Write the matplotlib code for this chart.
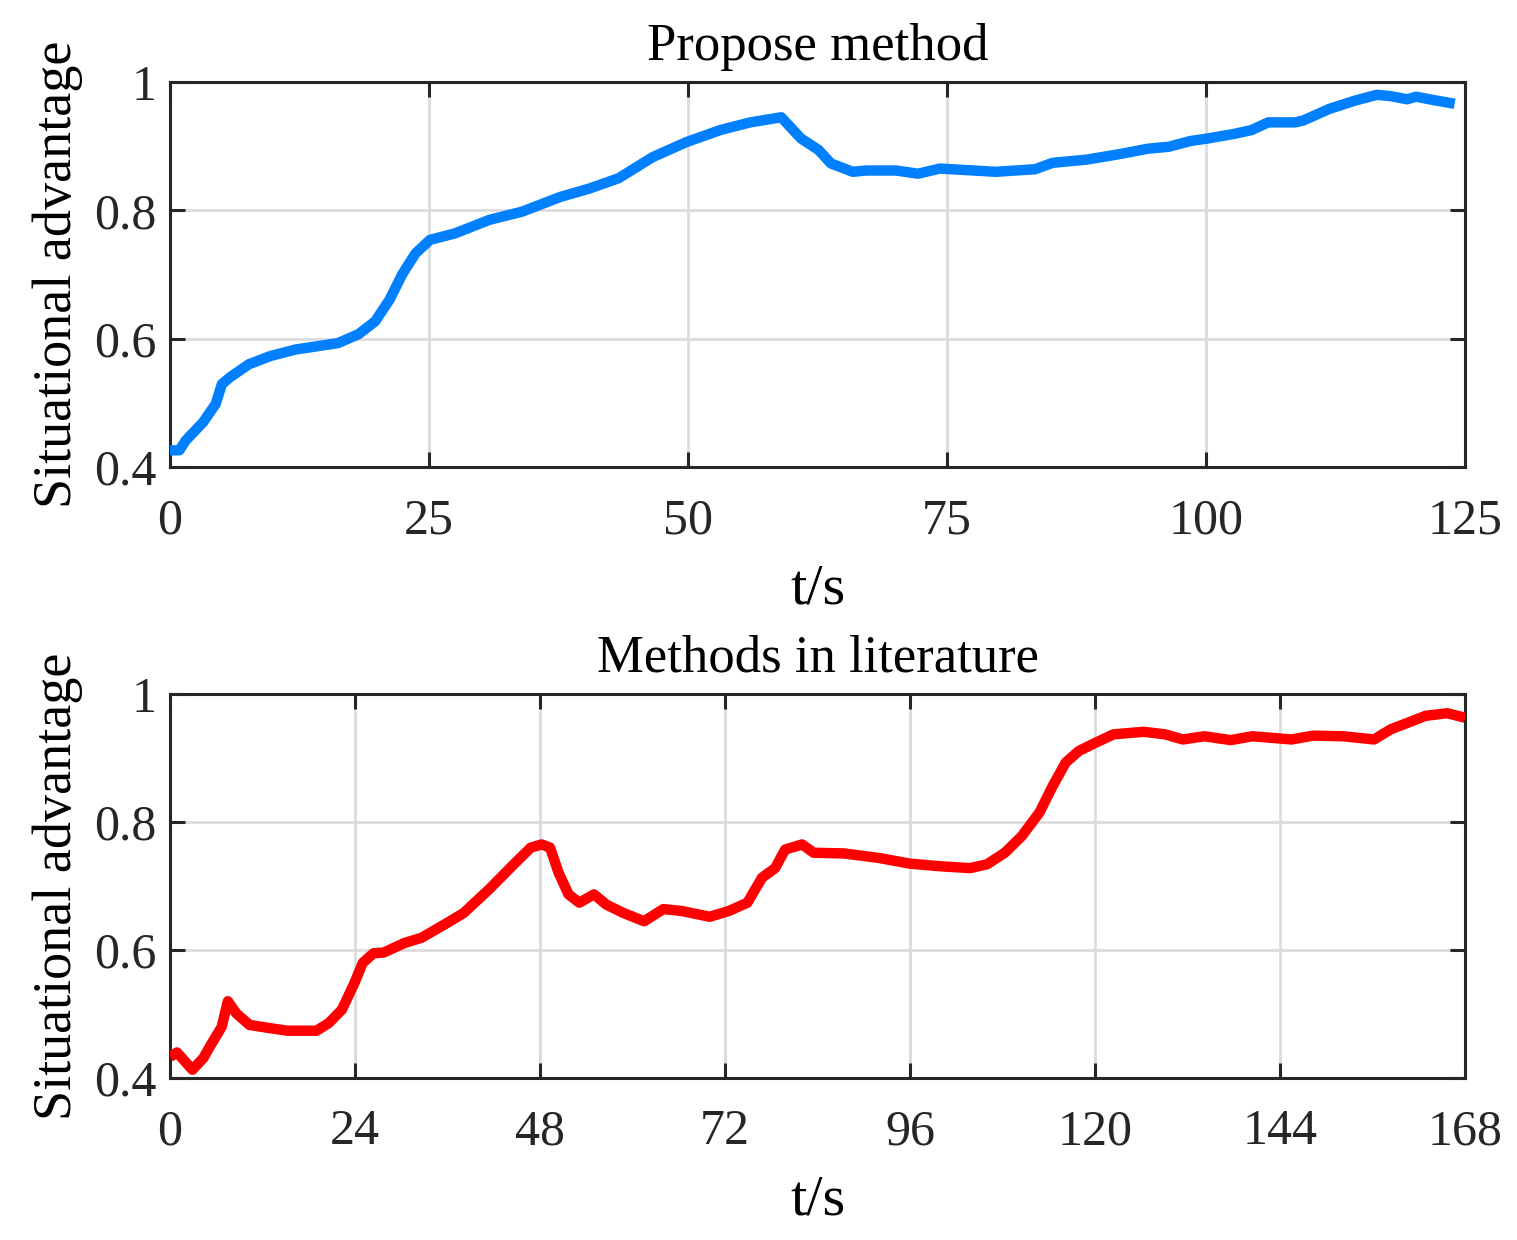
import matplotlib
matplotlib.use('Agg')
import matplotlib.pyplot as plt

# Propose method
t_prop = [0, 0.9, 1.5, 3.2, 4.4, 5.0, 5.8, 7.6, 9.7, 12.1, 16.2, 18.2, 19.8, 21.2,
          22.4, 23.7, 25.1, 27.5, 30.8, 34.0, 37.7, 40.5, 43.3, 46.6, 49.8, 53.1,
          56.0, 59.0, 60.9, 62.6, 63.8, 65.9, 67.2, 70.1, 72.2, 74.3, 77.6, 79.7,
          83.5, 85.2, 88.5, 91.8, 94.4, 96.4, 98.5, 100.2, 102.7, 104.4, 106.0,
          108.6, 109.4, 111.9, 114.4, 116.5, 117.8, 119.4, 120.3, 121.9, 124.0]
v_prop = [0.426, 0.426, 0.441, 0.470, 0.498, 0.529, 0.540, 0.560, 0.573, 0.583,
          0.593, 0.607, 0.627, 0.661, 0.700, 0.733, 0.754, 0.764, 0.785, 0.798,
          0.821, 0.834, 0.850, 0.883, 0.906, 0.925, 0.937, 0.945, 0.912, 0.894,
          0.873, 0.860, 0.862, 0.862, 0.857, 0.865, 0.862, 0.860, 0.864, 0.874,
          0.879, 0.888, 0.896, 0.899, 0.908, 0.912, 0.919, 0.925, 0.937, 0.937,
          0.940, 0.958, 0.971, 0.980, 0.978, 0.973, 0.977, 0.972, 0.966]

# Methods in literature
t_lit = [0, 0.9, 2.9, 4.3, 5.3, 6.7, 7.5, 8.6, 10.3, 12.4, 15.2, 19.0, 20.6, 22.3,
         23.9, 25.0, 26.4, 27.7, 30.4, 32.6, 35.9, 38.1, 41.4, 44.6, 46.8, 48.2,
         49.3, 50.4, 51.7, 53.1, 55.0, 56.6, 58.8, 61.5, 64.0, 66.4, 70.0, 72.5,
         74.9, 76.8, 78.5, 79.8, 82.0, 83.5, 87.4, 91.9, 96.0, 99.8, 103.8, 106.0,
         108.3, 110.5, 112.8, 114.5, 116.2, 117.9, 120.1, 122.4, 126.3, 129.1,
         131.4, 134.2, 137.6, 140.4, 145.5, 148.3, 152.2, 156.2, 158.4, 161.2,
         162.9, 165.7, 168.0]
v_lit = [0.433, 0.440, 0.413, 0.431, 0.452, 0.480, 0.520, 0.501, 0.483, 0.479,
         0.474, 0.474, 0.486, 0.507, 0.548, 0.580, 0.595, 0.596, 0.611, 0.619,
         0.642, 0.658, 0.695, 0.734, 0.760, 0.765, 0.760, 0.721, 0.687, 0.674,
         0.687, 0.671, 0.658, 0.645, 0.664, 0.661, 0.652, 0.661, 0.674, 0.713,
         0.728, 0.757, 0.765, 0.752, 0.751, 0.744, 0.735, 0.731, 0.728, 0.734,
         0.752, 0.778, 0.815, 0.856, 0.893, 0.911, 0.924, 0.937, 0.941, 0.937,
         0.929, 0.934, 0.928, 0.934, 0.929, 0.935, 0.934, 0.929, 0.945, 0.958,
         0.966, 0.970, 0.963]

xticks_prop = [0, 25, 50, 75, 100, 125]
xticks_lit = [0, 24, 48, 72, 96, 120, 144, 168]
yticks = [0.4, 0.6, 0.8, 1.0]
ytick_labels = ['0.4', '0.6', '0.8', '1']

plt.rcParams['font.family'] = ['Liberation Serif', 'DejaVu Serif']

fig = plt.figure(figsize=(15.17, 12.4), dpi=100)
ax1 = fig.add_axes([0.1121, 0.6234, 0.8536, 0.3105])
ax2 = fig.add_axes([0.1121, 0.1306, 0.8536, 0.3097])

panels = [
    (ax1, t_prop, v_prop, '#0080FF', 'Propose method', xticks_prop, 125),
    (ax2, t_lit, v_lit, '#FF0000', 'Methods in literature', xticks_lit, 168),
]

for ax, t, v, color, title, xticks, xmax in panels:
    ax.plot(t, v, color=color, linewidth=7.5, solid_capstyle='butt', zorder=3)
    ax.set_xlim(0, xmax)
    ax.set_ylim(0.4, 1.0)
    ax.set_xticks(xticks)
    ax.set_yticks(yticks)
    ax.set_yticklabels(ytick_labels)
    ax.grid(True, color='#dcdcdc', linewidth=2)
    ax.tick_params(direction='in', length=11, width=2.2, colors='#262626',
                   labelsize=36, top=True, right=True)
    ax.tick_params(axis='x', pad=22)
    ax.tick_params(axis='y', pad=10)
    for s in ax.spines.values():
        s.set_linewidth(2.2)
        s.set_color('#262626')
    ax.set_title(title, fontsize=38, pad=16)
    ax.set_xlabel('t/s', fontsize=42, labelpad=14)
    ax.set_ylabel('Situational advantage', fontsize=39, labelpad=8)

plt.savefig('out.png', dpi=100)
